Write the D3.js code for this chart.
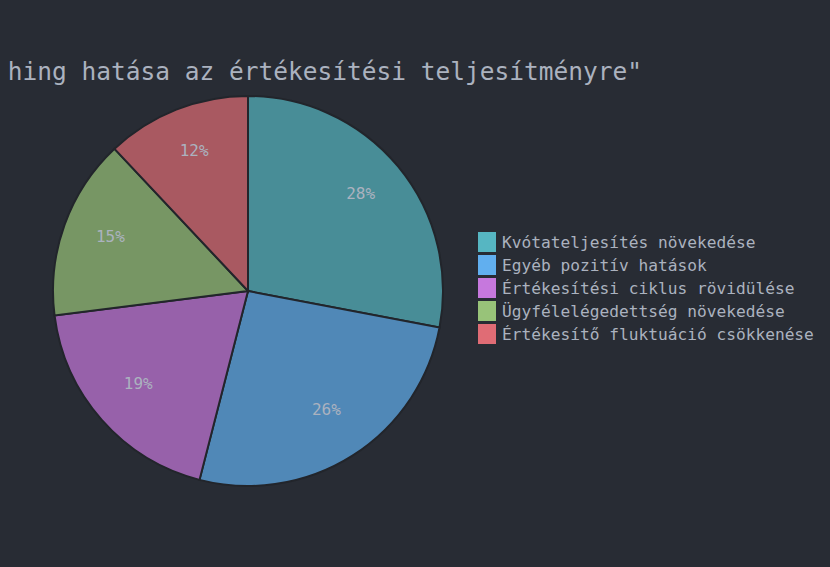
<!DOCTYPE html>
<html>
<head>
<meta charset="utf-8">
<script src="https://cdn.jsdelivr.net/npm/d3@7"></script>
<style>
  html, body { margin: 0; padding: 0; background: #282c34; overflow: hidden; }
  text { font-family: "DejaVu Sans Mono", monospace; fill: #abb2bf; }
</style>
</head>
<body>
<svg id="chart"></svg>
<script>
const categories = [
    "Kvótateljesítés növekedése",
    "Egyéb pozitív hatások",
    "Értékesítési ciklus rövidülése",
    "Ügyfélelégedettség növekedése",
    "Értékesítő fluktuáció csökkenése"
];
const values = [28, 26, 19, 15, 12];
const colors = ["#56b6c2", "#61afef", "#c678dd", "#98c379", "#e06c75"];
const title = "\"Coaching hatása az értékesítési teljesítményre\"";

const width = 830, height = 567;
const cx = 248, cy = 291, radius = 195;

const svg = d3.select("#chart")
    .attr("width", width)
    .attr("height", height);

svg.append("rect")
    .attr("width", width)
    .attr("height", height)
    .attr("fill", "#282c34");

// the title box is clipped on the left in the original
svg.append("clipPath")
    .attr("id", "titleClip")
    .append("rect")
    .attr("x", 8)
    .attr("y", 0)
    .attr("width", width - 8)
    .attr("height", 120);

svg.append("text")
    .attr("x", 642)
    .attr("y", 80)
    .attr("text-anchor", "end")
    .attr("clip-path", "url(#titleClip)")
    .style("font-size", "24.5px")
    .text(title);

const data = categories.map((c, i) => ({ name: c, value: values[i] }));
const color = d3.scaleOrdinal().domain(categories).range(colors);

const pie = d3.pie().sort(null).value(d => d.value);
const arc = d3.arc().innerRadius(0).outerRadius(radius);
const labelArc = d3.arc().innerRadius(radius * 0.75).outerRadius(radius * 0.75);

const g = svg.append("g").attr("transform", `translate(${cx},${cy})`);
const arcs = pie(data);
const total = d3.sum(values);

g.selectAll("path")
    .data(arcs)
    .enter()
    .append("path")
    .attr("d", arc)
    .attr("fill", d => color(d.data.name))
    .attr("fill-opacity", 0.7)
    .attr("stroke", "#22252b")
    .attr("stroke-width", 2);

g.selectAll("text.pct")
    .data(arcs)
    .enter()
    .append("text")
    .attr("class", "pct")
    .attr("transform", d => `translate(${labelArc.centroid(d)})`)
    .attr("text-anchor", "middle")
    .attr("dy", "0.05em")
    .style("font-size", "16px")
    .text(d => Math.round(d.data.value / total * 100) + "%");

// legend
const legend = svg.append("g").attr("transform", "translate(478,232)");
const rowH = 23;

const item = legend.selectAll("g")
    .data(categories)
    .enter()
    .append("g")
    .attr("transform", (d, i) => `translate(0,${i * rowH})`);

item.append("rect")
    .attr("width", 18)
    .attr("height", 20)
    .attr("fill", d => color(d));

item.append("text")
    .attr("x", 24)
    .attr("y", 10)
    .attr("dy", "0.35em")
    .style("font-size", "16.2px")
    .text(d => d);
</script>
</body>
</html>
